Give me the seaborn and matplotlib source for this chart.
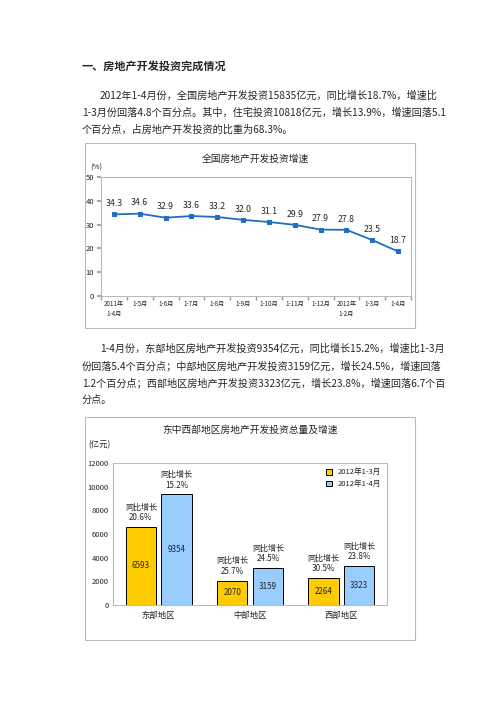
import matplotlib
matplotlib.use("Agg")
import matplotlib.pyplot as plt
import seaborn as sns
import pandas as pd
import numpy as np
from matplotlib.patches import Rectangle

sns.set_theme(style="white")
plt.rcParams['font.family'] = ['Noto Sans CJK SC', 'DejaVu Sans']

# ---- data ----
line_labels = ["2011年\n1-4月", "1-5月", "1-6月", "1-7月", "1-8月", "1-9月", "1-10月",
               "1-11月", "1-12月", "2012年\n1-2月", "1-3月", "1-4月"]
line_values = [34.3, 34.6, 32.9, 33.6, 33.2, 32.0, 31.1, 29.9, 27.9, 27.8, 23.5, 18.7]

regions = ["东部地区", "中部地区", "西部地区"]
series_names = ["2012年1-3月", "2012年1-4月"]
vals_q1 = [6593, 2070, 2264]
vals_apr = [9354, 3159, 3323]
growth_q1 = ["20.6%", "25.7%", "30.5%"]
growth_apr = ["15.2%", "24.5%", "23.8%"]

W, H = 496, 702
fig = plt.figure(figsize=(W/100, H/100), dpi=100)
fig.patch.set_facecolor("white")

def fx(x): return x / W
def fy(y): return 1 - y / H

# ---- page text ----
fig.text(fx(82), fy(66), "一、房地产开发投资完成情况", fontsize=8, fontweight="bold", va="center")
para1 = ["2012年1-4月份，全国房地产开发投资15835亿元，同比增长18.7%，增速比",
         "1-3月份回落4.8个百分点。其中，住宅投资10818亿元，增长13.9%，增速回落5.1",
         "个百分点，占房地产开发投资的比重为68.3%。"]
para2 = ["1-4月份，东部地区房地产开发投资9354亿元，同比增长15.2%，增速比1-3月",
         "份回落5.4个百分点；中部地区房地产开发投资3159亿元，增长24.5%，增速回落",
         "1.2个百分点；西部地区房地产开发投资3323亿元，增长23.8%，增速回落6.7个百",
         "分点。"]
for i, t in enumerate(para1):
    fig.text(fx(100 if i == 0 else 82), fy(96 + 17 * i), t, fontsize=7.3, va="center")
for i, t in enumerate(para2):
    fig.text(fx(100 if i == 0 else 82), fy(349 + 17 * i), t, fontsize=7.3, va="center")

# frames
for (x0, y0, x1, y1) in [(85, 143, 415, 328), (85, 417, 415, 640)]:
    fig.patches.append(Rectangle((fx(x0), fy(y1)), fx(x1) - fx(x0), fy(y0) - fy(y1),
                                 transform=fig.transFigure, fill=False, ec="#BBBBBB", lw=0.8))

# ---- line chart ----
ax1 = fig.add_axes([fx(101), fy(296), fx(411) - fx(101), fy(177) - fy(296)])
df1 = pd.DataFrame({"x": np.arange(len(line_values)), "v": line_values})
sns.lineplot(data=df1, x="x", y="v", ax=ax1, color="#1F6FC0", lw=1.3,
             marker="s", markersize=3.5, markeredgecolor="#1F6FC0")
for xi, v in zip(df1["x"], df1["v"]):
    ax1.text(xi, v + 4.5, f"{v:.1f}", ha="center", va="center", fontsize=6.3)
ax1.set_xlim(-0.5, len(line_values) - 0.5)
ax1.set_ylim(0, 50)
ax1.set_yticks([0, 10, 20, 30, 40, 50])
ax1.set_xticks(df1["x"])
ax1.set_xticklabels(line_labels, fontsize=4.5, va="top", linespacing=1.3)
ax1.set_xticks(np.arange(len(line_values) + 1) - 0.5, minor=True)
ax1.tick_params(axis="x", which="major", length=0, pad=3)
ax1.tick_params(axis="x", which="minor", length=3, color="#999999", bottom=True)
ax1.tick_params(axis="y", labelsize=5.5, length=3, color="#999999", left=True, pad=2)
ax1.set_xlabel(""); ax1.set_ylabel("")
for s in ax1.spines.values():
    s.set_color("#BBBBBB"); s.set_linewidth(0.8)
fig.text(fx(90), fy(168), "(%)", fontsize=5.5, va="center")
fig.text(fx(255), fy(159), "全国房地产开发投资增速", fontsize=7, ha="center", va="center")

# ---- bar chart ----
ax2 = fig.add_axes([fx(113), fy(605), fx(387) - fx(113), fy(463) - fy(605)])
df2 = pd.DataFrame({"region": regions * 2,
                    "series": [series_names[0]] * 3 + [series_names[1]] * 3,
                    "v": vals_q1 + vals_apr})
sns.barplot(data=df2, x="region", y="v", hue="series", ax=ax2,
            palette=["#FFCC00", "#99CCFF"], saturation=1, edgecolor="black", linewidth=0.7,
            width=0.78, gap=0.15)
for cont, grow in zip(ax2.containers, [growth_q1, growth_apr]):
    for bar, g in zip(cont, grow):
        cx = bar.get_x() + bar.get_width() / 2
        h = bar.get_height()
        ax2.text(cx, h / 2, f"{int(h)}", ha="center", va="center", fontsize=5.8)
        ax2.text(cx, h + 400, f"同比增长\n{g}", ha="center", va="bottom", fontsize=5.8,
                 linespacing=1.2)
ax2.set_ylim(0, 12000)
ax2.set_yticks(range(0, 12001, 2000))
ax2.tick_params(axis="y", labelsize=5.5, length=0, pad=3)
ax2.tick_params(axis="x", labelsize=6, length=0, pad=4)
ax2.set_xlabel(""); ax2.set_ylabel("")
for s in ax2.spines.values():
    s.set_color("#BBBBBB"); s.set_linewidth(0.8)
leg = ax2.legend(loc="upper right", fontsize=5.5, frameon=False, handlelength=0.8,
                 handleheight=0.8, borderaxespad=0.3, labelspacing=0.5)
fig.text(fx(88), fy(445), "(亿元)", fontsize=6, va="center")
fig.text(fx(250), fy(430), "东中西部地区房地产开发投资总量及增速", fontsize=7, ha="center",
         va="center")

fig.savefig("out.png", dpi=100)
